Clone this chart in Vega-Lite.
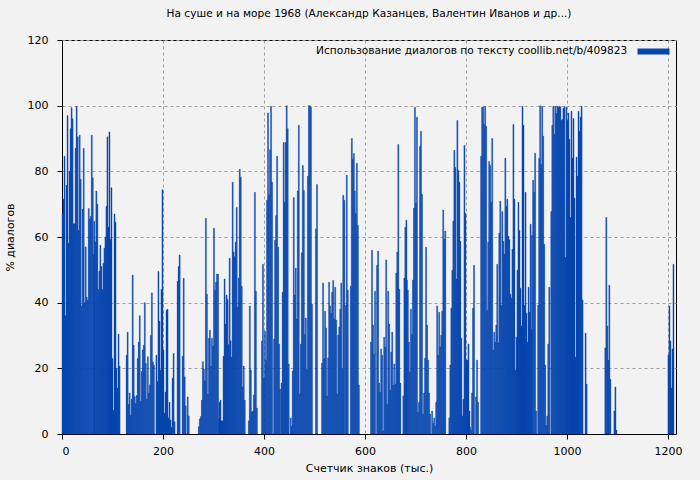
{
  "$schema": "https://vega.github.io/schema/vega-lite/v6.json",
  "width": 614,
  "height": 394,
  "autosize": {"type": "none"},
  "padding": {"left": 62, "top": 40, "right": 24, "bottom": 46},
  "background": "#f2f2f2",
  "title": {"text": "На суше и на море 1968 (Александр Казанцев, Валентин Иванов и др...)", "fontSize": 10.6, "fontWeight": "normal", "color": "#000", "offset": 14, "anchor": "middle"},
  "data": {"values": [
{"x":0,"y":67},{"x":2,"y":71.5},{"x":4,"y":84.6},{"x":6,"y":36},{"x":8,"y":75.8},{"x":10,"y":97},{"x":12,"y":58},{"x":14,"y":80},{"x":16,"y":93},{"x":18,"y":99.4},{"x":20,"y":96},{"x":22,"y":64},{"x":24,"y":64},{"x":26,"y":87},{"x":28,"y":99.8},{"x":30,"y":90.5},{"x":32,"y":62},{"x":34,"y":91},{"x":36,"y":77.6},{"x":38,"y":39},{"x":40,"y":68.5},{"x":42,"y":87},{"x":44,"y":40},{"x":46,"y":57},{"x":48,"y":41.7},{"x":50,"y":40.8},{"x":52,"y":68.7},{"x":54,"y":65.4},{"x":56,"y":66.3},{"x":58,"y":91},{"x":60,"y":78},{"x":62,"y":54.6},
{"x":63,"y":64.8},{"x":65,"y":58.5},{"x":67,"y":74},{"x":69,"y":70},{"x":71,"y":44},{"x":73,"y":49.6},{"x":75,"y":57.5},{"x":77,"y":51},{"x":79,"y":44},{"x":81,"y":52},{"x":83,"y":56.6},{"x":85,"y":60},{"x":87,"y":69.4},{"x":89,"y":90.5},{"x":91,"y":63},{"x":93,"y":92},{"x":95,"y":59.3},{"x":97,"y":75},{"x":99,"y":23},{"x":101,"y":7.3},{"x":103,"y":67},{"x":105,"y":64.5},{"x":107,"y":20},{"x":109,"y":14},{"x":111,"y":30.4},{"x":113,"y":20.7},
{"x":127,"y":24},{"x":129,"y":31},{"x":131,"y":9},{"x":133,"y":12.5},{"x":135,"y":5.6},{"x":137,"y":10.6},{"x":139,"y":48.4},{"x":141,"y":27},{"x":143,"y":11.4},{"x":145,"y":9.3},{"x":147,"y":11.7},{"x":149,"y":23},{"x":151,"y":28},{"x":153,"y":36},{"x":155,"y":10},{"x":157,"y":19},{"x":159,"y":25.6},{"x":161,"y":27},{"x":163,"y":40},{"x":165,"y":21.5},{"x":167,"y":10.6},{"x":169,"y":23.5},{"x":171,"y":12.5},{"x":173,"y":15},{"x":175,"y":30},{"x":177,"y":43},{"x":179,"y":22},{"x":181,"y":21},
{"x":186,"y":24},{"x":188,"y":16},{"x":190,"y":49.5},{"x":192,"y":34.4},{"x":194,"y":19.5},{"x":196,"y":44},{"x":198,"y":74.4},{"x":200,"y":25.6},{"x":202,"y":6.3},{"x":204,"y":12.8},{"x":206,"y":37.7},{"x":208,"y":38},{"x":210,"y":4.9},{"x":212,"y":9.7},{"x":214,"y":4.3},{"x":216,"y":2},{"x":218,"y":17},{"x":220,"y":24.5},{"x":222,"y":3.7},
{"x":228,"y":46.5},{"x":230,"y":51},{"x":232,"y":54.5},{"x":238,"y":23.7},{"x":240,"y":47.4},{"x":242,"y":17.4},{"x":244,"y":8.6},{"x":248,"y":11.3},{"x":250,"y":5.5},
{"x":270,"y":2.2},{"x":272,"y":4.6},{"x":274,"y":5.3},{"x":276,"y":10.3},{"x":278,"y":22},{"x":280,"y":19.8},{"x":282,"y":16.2},{"x":284,"y":65.7},{"x":286,"y":42.6},{"x":288,"y":12.2},{"x":290,"y":29.2},{"x":292,"y":31.6},{"x":294,"y":20.7},{"x":296,"y":29.2},{"x":298,"y":26.8},{"x":300,"y":62.7},{"x":302,"y":43.7},{"x":304,"y":46.2},{"x":306,"y":48.7},{"x":308,"y":48.7},{"x":310,"y":4.6},
{"x":311,"y":9.7},{"x":313,"y":10.3},{"x":315,"y":4},{"x":317,"y":4},{"x":319,"y":23.7},{"x":321,"y":47.2},{"x":323,"y":33.5},{"x":325,"y":42.3},{"x":327,"y":41},{"x":329,"y":27.2},{"x":331,"y":53.5},{"x":333,"y":28.4},{"x":335,"y":23.4},{"x":337,"y":76.7},{"x":339,"y":55.4},{"x":341,"y":54},{"x":343,"y":58.4},{"x":345,"y":69},{"x":347,"y":38.6},{"x":349,"y":47.5},{"x":351,"y":80.6},{"x":353,"y":78.2},{"x":355,"y":45},{"x":357,"y":14.3},{"x":359,"y":20.7},{"x":361,"y":10.3},
{"x":369,"y":4},{"x":371,"y":39},{"x":373,"y":19.5},{"x":375,"y":6.7},{"x":377,"y":7},{"x":379,"y":11.9},{"x":381,"y":73.6},{"x":383,"y":43.5},{"x":385,"y":7.9},
{"x":395,"y":28.3},{"x":397,"y":51.7},{"x":399,"y":17},{"x":401,"y":31.3},{"x":403,"y":22.5},{"x":405,"y":71.2},{"x":407,"y":97.8},{"x":409,"y":73},{"x":411,"y":86.6},{"x":413,"y":99.8},{"x":415,"y":76.7},{"x":419,"y":28.9},{"x":421,"y":59},{"x":423,"y":66.5},{"x":425,"y":84.6},{"x":427,"y":56.9},{"x":429,"y":27.4},{"x":431,"y":13.7},
{"x":434,"y":15.5},{"x":436,"y":43.2},{"x":438,"y":88.8},{"x":440,"y":70.6},{"x":442,"y":88.8},{"x":444,"y":100},{"x":446,"y":93},{"x":448,"y":21.3},{"x":452,"y":4.9},{"x":454,"y":2.4},{"x":456,"y":19.2},{"x":458,"y":72},{"x":460,"y":42.3},{"x":462,"y":50.5},{"x":464,"y":35},{"x":466,"y":74},{"x":468,"y":94},{"x":470,"y":12.2},{"x":472,"y":27.4},{"x":474,"y":55.2},{"x":476,"y":81.8},{"x":478,"y":74.2},{"x":480,"y":30.4},{"x":482,"y":35.3},{"x":484,"y":19.8},{"x":486,"y":78.5},{"x":488,"y":100},{"x":490,"y":100},{"x":492,"y":99.5},{"x":494,"y":39.6},
{"x":502,"y":62.5},{"x":504,"y":76},{"x":514,"y":21.6},{"x":516,"y":46},{"x":518,"y":23},{"x":520,"y":37.4},{"x":522,"y":32.3},{"x":524,"y":11.6},{"x":526,"y":23.2},{"x":528,"y":46.2},{"x":530,"y":39},{"x":532,"y":36.8},{"x":534,"y":43.2},{"x":536,"y":46.8},{"x":538,"y":35},{"x":540,"y":44.7},{"x":542,"y":34.7},{"x":544,"y":12.2},{"x":546,"y":30.1},{"x":548,"y":32.6},{"x":550,"y":38},{"x":552,"y":46},{"x":554,"y":20},{"x":556,"y":72.7},{"x":558,"y":71.2},
{"x":561,"y":39.2},{"x":563,"y":78.8},{"x":565,"y":43.8},{"x":571,"y":45},{"x":573,"y":90},{"x":575,"y":83.7},{"x":577,"y":85.4},{"x":579,"y":74},{"x":581,"y":67.1},{"x":583,"y":82.5},{"x":585,"y":63.6},{"x":587,"y":14.9},
{"x":611,"y":28},{"x":613,"y":56},{"x":615,"y":33.2},{"x":617,"y":24.3},{"x":619,"y":43.5},{"x":623,"y":51.4},{"x":625,"y":55.7},{"x":627,"y":15.5},{"x":629,"y":12.8},{"x":631,"y":25.9},{"x":633,"y":24},{"x":635,"y":1},{"x":637,"y":29.5},{"x":639,"y":26.5},{"x":641,"y":53},{"x":643,"y":9},{"x":645,"y":43.5},{"x":647,"y":33.5},{"x":649,"y":13.4},{"x":651,"y":25},{"x":653,"y":31},{"x":655,"y":14.9},{"x":657,"y":21.3},{"x":659,"y":15.2},{"x":661,"y":49},{"x":663,"y":55.4},{"x":665,"y":88.2},{"x":667,"y":44.1},{"x":669,"y":15.5},
{"x":675,"y":11.6},{"x":677,"y":47.5},{"x":679,"y":63},{"x":681,"y":65.1},
{"x":682,"y":46.9},{"x":684,"y":43.8},{"x":686,"y":28},{"x":688,"y":18.9},{"x":690,"y":38},{"x":692,"y":30.4},{"x":694,"y":46.9},{"x":696,"y":68.8},{"x":698,"y":99.5},{"x":700,"y":70.3},{"x":702,"y":96.5},{"x":704,"y":6.7},{"x":706,"y":9.7},{"x":708,"y":87.6},{"x":710,"y":92.2},{"x":712,"y":73},{"x":714,"y":6.1},{"x":716,"y":12.5},{"x":718,"y":23.1},{"x":720,"y":56.9},{"x":722,"y":33.2},{"x":724,"y":22.5},{"x":726,"y":12.5},{"x":728,"y":6.1},
{"x":732,"y":7},{"x":734,"y":3.3},{"x":736,"y":4.9},{"x":738,"y":2.4},{"x":740,"y":9.7},{"x":742,"y":39},{"x":744,"y":24},{"x":746,"y":37.1},{"x":748,"y":26.5},{"x":750,"y":30.1},{"x":752,"y":37.4},{"x":754,"y":68.2},{"x":756,"y":59.3},{"x":758,"y":61.8},
{"x":766,"y":4.9},{"x":768,"y":21},{"x":770,"y":38.3},{"x":772,"y":49.9},{"x":774,"y":64.8},{"x":776,"y":86.4},{"x":778,"y":81.2},{"x":780,"y":47.2},{"x":782,"y":95.5},{"x":784,"y":80.3},{"x":786,"y":76.7},{"x":788,"y":58.7},{"x":790,"y":29.2},{"x":792,"y":5.5},{"x":794,"y":10.6},{"x":796,"y":87.9},{"x":798,"y":67.2},{"x":800,"y":22.5},{"x":802,"y":22.5},{"x":804,"y":27.4},{"x":806,"y":7},
{"x":807,"y":2.1},{"x":809,"y":1.2},{"x":811,"y":12.5},{"x":813,"y":38.3},{"x":815,"y":51.4},{"x":819,"y":11.3},{"x":821,"y":22.5},{"x":823,"y":9.7},
{"x":829,"y":84.6},{"x":831,"y":99.5},{"x":833,"y":99.5},{"x":835,"y":94.3},{"x":837,"y":99.8},{"x":839,"y":93.7},{"x":841,"y":37.7},{"x":843,"y":58.4},{"x":845,"y":83},{"x":847,"y":81.8},{"x":849,"y":70.6},{"x":851,"y":90},{"x":853,"y":25.6},{"x":855,"y":31},{"x":857,"y":28},{"x":859,"y":33.2},{"x":861,"y":51.7},{"x":863,"y":27.7},{"x":865,"y":61.2},{"x":867,"y":70.9},{"x":869,"y":39.2},{"x":871,"y":67.8},{"x":873,"y":58.7},{"x":875,"y":54.8},{"x":877,"y":84},{"x":879,"y":69.4},{"x":881,"y":71.5},{"x":883,"y":60.2},{"x":885,"y":59.2},{"x":887,"y":42.6},{"x":889,"y":41.4},{"x":891,"y":56.3},{"x":893,"y":94.3},{"x":895,"y":71.5},{"x":897,"y":19.5},{"x":899,"y":29.5},{"x":901,"y":49.9},{"x":903,"y":70.6},{"x":905,"y":62},{"x":907,"y":44.4},{"x":909,"y":32.9},{"x":911,"y":99.8},{"x":913,"y":94},{"x":915,"y":39.2},{"x":917,"y":73.6},{"x":919,"y":36.8},{"x":921,"y":28},{"x":923,"y":44.7},{"x":925,"y":37.1},{"x":927,"y":63.9},{"x":929,"y":31.9},
{"x":930,"y":60.5},{"x":932,"y":77.3},{"x":934,"y":73.6},{"x":936,"y":85.5},{"x":938,"y":7},{"x":942,"y":39.2},{"x":944,"y":84},{"x":946,"y":100},{"x":948,"y":82.1},{"x":950,"y":99.8},{"x":952,"y":90.7},{"x":954,"y":57.8},{"x":956,"y":21},{"x":958,"y":2.7},{"x":960,"y":5.5},{"x":962,"y":27.4},{"x":964,"y":44.7},
{"x":968,"y":67.8},{"x":970,"y":94},{"x":972,"y":99.8},{"x":974,"y":91.3},{"x":976,"y":99.8},{"x":978,"y":97.7},{"x":980,"y":99.8},{"x":982,"y":99.5},{"x":984,"y":99.8},{"x":986,"y":99.5},{"x":988,"y":95.5},{"x":990,"y":95.8},{"x":992,"y":99.2},{"x":994,"y":99.8},{"x":996,"y":53.9},{"x":998,"y":99.5},{"x":1000,"y":95.5},{"x":1002,"y":97.7},{"x":1004,"y":89.8},{"x":1006,"y":66},{"x":1008,"y":98.3},{"x":1010,"y":84},{"x":1012,"y":96.1},{"x":1014,"y":71.8},{"x":1016,"y":23.4},{"x":1018,"y":84.3},{"x":1020,"y":78.5},{"x":1022,"y":98.3},{"x":1024,"y":92.2},{"x":1026,"y":96.5},{"x":1028,"y":99.8},{"x":1030,"y":40.8},
{"x":1036,"y":30.7},{"x":1038,"y":15.2},
{"x":1075,"y":26.2},{"x":1077,"y":66},{"x":1079,"y":32.9},{"x":1081,"y":22.5},{"x":1083,"y":45.3},{"x":1085,"y":16.7},{"x":1093,"y":7},{"x":1095,"y":14.3},{"x":1097,"y":1.2},
{"x":1200,"y":24},{"x":1202,"y":39},{"x":1204,"y":28.3},{"x":1206,"y":14},{"x":1208,"y":25.9},{"x":1210,"y":51.7}
  ]},
  "transform": [{"calculate": "datum.x + 2", "as": "x2"}],
  "mark": {"type": "bar", "opacity": 1, "stroke": "#0645ad", "strokeWidth": 0.4},
  "encoding": {
    "x": {"field": "x", "type": "quantitative", "scale": {"domain": [0, 1216], "nice": false, "zero": false},
      "axis": {"values": [0, 200, 400, 600, 800, 1000, 1200], "format": "d", "title": "Счетчик знаков (тыс.)", "labelPadding": 6, "titlePadding": 6}},
    "x2": {"field": "x2"},
    "y": {"field": "y", "type": "quantitative", "scale": {"domain": [0, 120], "nice": false, "zero": true},
      "axis": {"values": [0, 20, 40, 60, 80, 100, 120], "format": "d", "title": "% диалогов", "labelPadding": 9, "titlePadding": 12}},
    "y2": {"datum": 0},
    "color": {"datum": "s", "type": "nominal", "scale": {"range": ["#0645ad"]},
      "legend": {"title": "Использование диалогов по тексту  coollib.net/b/409823", "titleOrient": "left", "orient": "top-right", "offset": 6, "padding": 0, "labelExpr": "'\u00a0'", "labelFontSize": 11, "labelOffset": 2, "symbolType": "M-4,-0.75H4V0.75H-4Z", "symbolSize": 64, "symbolOffset": -23, "symbolStrokeWidth": 0, "symbolOpacity": 1, "titlePadding": 40, "titleFontSize": 10.6, "titleFontWeight": "normal", "titleColor": "#000", "titleLimit": 500}}
  },
  "config": {
    "font": "DejaVu Sans",
    "view": {"stroke": "#000", "strokeWidth": 1},
    "axis": {"labelFontSize": 11, "labelColor": "#000", "titleFontSize": 11, "titleFontWeight": "normal", "titleColor": "#000", "domainColor": "#000", "tickColor": "#000", "gridColor": "#a0a0a0", "gridDash": [3, 3], "tickSize": 5, "grid": true}
  }
}
